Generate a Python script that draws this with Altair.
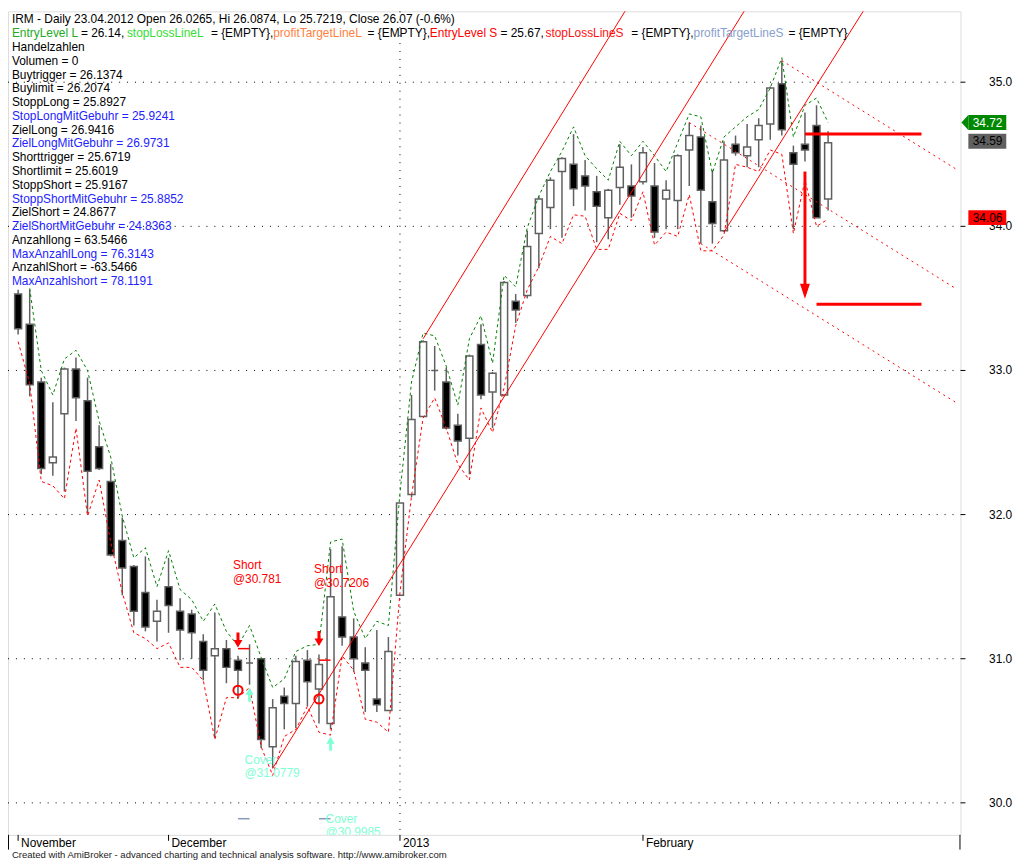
import altair as alt
import pandas as pd

# ---------------- data ----------------
bar_index = list(range(71))
open_p = [33.53, 33.32, 32.92, 32.36, 32.70, 33.01, 32.79, 32.47, 32.23, 31.82,
          31.64, 31.46, 31.26, 31.50, 31.33, 31.31, 31.12, 31.02, 31.07, 30.99,
          30.97, 31.00, 30.39, 30.74, 30.69, 30.99, 30.79, 30.55, 31.29, 31.15,
          30.97, 30.72, 30.64, 31.44, 32.14, 32.68, 33.00, 32.92, 32.62, 32.53,
          33.18, 32.85, 32.83, 33.48, 33.52, 33.95, 34.13, 34.38, 34.43, 34.35,
          34.24, 34.06, 34.27, 34.28, 34.31, 34.28, 34.19, 34.18, 34.53, 34.62,
          34.17, 33.97, 34.57, 34.49, 34.60, 34.71, 34.99, 34.51, 34.57, 34.70,
          34.19]
high_p = [33.56, 33.56, 32.95, 32.78, 33.02, 33.09, 32.95, 32.62, 32.35, 31.98,
          31.65, 31.71, 31.41, 31.70, 31.42, 31.34, 31.17, 31.32, 31.13, 31.02,
          31.10, 31.00, 30.72, 30.80, 31.02, 31.06, 31.03, 31.76, 31.78, 31.28,
          31.08, 31.20, 31.15, 32.08, 32.83, 33.21, 33.17, 33.02, 32.70, 33.11,
          33.32, 32.99, 33.62, 33.53, 33.97, 34.21, 34.34, 34.48, 34.64, 34.46,
          34.35, 34.26, 34.57, 34.43, 34.55, 34.44, 34.32, 34.50, 34.72, 34.70,
          34.39, 34.59, 34.63, 34.71, 34.75, 34.97, 35.15, 34.56, 34.79, 34.84,
          34.66]
low_p = [33.25, 32.82, 32.28, 32.27, 32.16, 32.65, 32.01, 32.31, 31.71, 31.44,
         31.23, 31.19, 31.12, 31.18, 30.99, 31.00, 30.85, 30.45, 30.83, 30.72,
         30.82, 30.38, 30.24, 30.51, 30.52, 30.67, 30.55, 30.51, 31.09, 30.91,
         30.63, 30.63, 30.64, 31.44, 32.12, 32.68, 32.86, 32.59, 32.41, 32.28,
         32.80, 32.60, 32.82, 33.33, 33.50, 33.71, 33.98, 33.92, 34.14, 34.11,
         33.89, 33.91, 34.15, 34.06, 34.29, 33.92, 33.98, 33.98, 34.28, 33.88,
         33.88, 33.96, 34.49, 34.41, 34.41, 34.60, 34.63, 33.98, 34.45, 34.06,
         34.11]
close_p = [33.29, 32.90, 32.32, 32.40, 33.01, 32.81, 32.30, 32.32, 31.72, 31.63,
           31.33, 31.22, 31.33, 31.37, 31.20, 31.18, 30.92, 31.07, 30.94, 30.92,
           30.97, 30.44, 30.66, 30.69, 30.98, 30.84, 30.96, 31.43, 31.15, 31.00,
           30.92, 30.68, 31.05, 32.08, 32.66, 33.20, 33.00, 32.60, 32.51, 33.10,
           32.83, 32.98, 33.61, 33.42, 33.86, 34.19, 34.32, 34.47, 34.26, 34.28,
           34.14, 34.25, 34.41, 34.21, 34.51, 33.96, 34.25, 34.49, 34.63, 34.25,
           34.02, 34.46, 34.51, 34.55, 34.70, 34.96, 34.67, 34.43, 34.53, 34.06,
           34.58]
upper_band = [None, 33.57, 33.00, 32.83, 33.08, 33.14, 33.00, 32.65, 32.40, 31.99,
              31.70, 31.77, 31.50, 31.75, 31.48, 31.41, 31.26, 31.38, 31.19, 31.09,
              31.23, 31.01, 30.80, 30.86, 31.05, 31.09, 31.10, 31.81, 31.83, 31.33,
              31.14, 31.26, 31.23, 32.15, 32.92, 33.26, 33.24, 33.03, 32.76, 33.22,
              33.38, 33.05, 33.66, 33.58, 33.99, 34.21, 34.38, 34.52, 34.69, 34.49,
              34.40, 34.32, 34.59, 34.49, 34.59, 34.49, 34.38, 34.58, 34.78, 34.76,
              34.37, 34.62, 34.69, 34.76, 34.81, 34.96, 35.17, 34.62, 34.84, 34.89,
              34.72]
lower_band = [33.20, 32.91, 32.23, 32.20, 32.11, 32.60, 31.99, 32.24, 31.81, 31.46,
              31.18, 31.14, 31.07, 31.11, 30.94, 30.94, 30.85, 30.44, 30.73, 30.73,
              30.80, 30.39, 30.19, 30.46, 30.51, 30.67, 30.49, 30.47, 31.02, 30.92,
              30.58, 30.56, 30.49, 31.46, 32.13, 32.67, 32.81, 32.60, 32.35, 32.24,
              32.74, 32.57, 32.88, 33.31, 33.56, 33.72, 33.93, 33.88, 34.08, 34.07,
              33.84, 33.84, 34.09, 34.04, 34.24, 33.87, 33.96, 33.93, 34.22, 33.83,
              33.83, 33.94, 34.43, 34.41, 34.38, 34.53, 34.50, 33.95, 34.32, 34.00,
              34.05]

month_labels = ["November", "December", "2013", "February"]
month_start_bar = [0, 13, 33, 54]
year_start_bar = [33]
price_ticks = [30, 31, 32, 33, 34, 35]

# trend lines (start bar, start price, end bar, end price)
up_from_bar = [22, 35, 61]
up_from_val = [30.24, 33.22, 33.96]
up_to_bar = [63.5, 53.2, 73.8]
up_to_val = [35.59, 35.59, 35.59]
down_from_bar = [66, 58, 59]
down_from_val = [35.15, 34.72, 33.88]
down_to_bar = [81.0, 81.0, 81.0]
down_to_val = [34.40, 33.57, 32.78]

# target lines and arrow
target_from_bar = [68, 69]
target_to_bar = [78.07, 78.07]
target_val = [34.64, 33.46]
arrow_bar = [68]
arrow_top = [34.38]
arrow_bottom = [33.60]
arrow_head = [33.55]

# trade signals
short_bar = [19, 26]
short_price = [30.781, 30.7206]
short_arrow_val = [31.13, 31.14]
short_line_val = [31.07, 30.99]
cover_bar = [20, 27]
cover_price = [31.0779, 30.9985]
cover_arrow_val = [30.75, 30.41]
gray_line_val = [29.89, 29.89]
short_label_val = [31.65, 31.62]
cover_label_val = [30.30, 29.89]

# right axis price labels
tag_val = [34.72, 34.59, 34.06]
tag_fill = ["#008800", "#606060", "#FF0000"]
tag_text_col = ["white", "black", "black"]

title_line = "IRM - Daily 23.04.2012 Open 26.0265, Hi 26.0874, Lo 25.7219, Close 26.07 (-0.6%)"
line2_parts = ["EntryLevel L", "= 26.14,", "stopLossLineL", "= {EMPTY},", "profitTargetLineL",
               "= {EMPTY},", "EntryLevel S", "= 25.67,", "stopLossLineS", "= {EMPTY},",
               "profitTargetLineS", "= {EMPTY}"]
line2_colors = ["#1EAA1E", "black", "#33DD33", "black", "#FF7F3F", "black", "#FF0000",
                "black", "#FF1010", "black", "#88A0CC", "black"]
info_lines = ["Handelzahlen", "Volumen = 0", "Buytrigger = 26.1374", "Buylimit = 26.2074",
              "StoppLong = 25.8927", "StopLongMitGebuhr = 25.9241", "ZielLong = 26.9416",
              "ZielLongMitGebuhr = 26.9731", "Shorttrigger = 25.6719", "Shortlimit = 25.6019",
              "StoppShort = 25.9167", "StoppShortMitGebuhr = 25.8852", "ZielShort = 24.8677",
              "ZielShortMitGebuhr = 24.8363", "Anzahllong = 63.5466", "MaxAnzahlLong = 76.3143",
              "AnzahlShort = -63.5466", "MaxAnzahlshort = 78.1191"]
BLUE = "#2222FF"
info_colors = ["black", "black", "black", "black", "black", BLUE, "black", BLUE, "black",
               "black", "black", BLUE, "black", BLUE, "black", BLUE, "black", BLUE]
footer = "Created with AmiBroker - advanced charting and technical analysis software. http://www.amibroker.com"

# ---------------- layout ----------------
W, H = 960, 830
RW, RH = 967.0, 837.0


def sx(v):
    return v * W / RW


def sy(v):
    return v * H / RH


FONT = "Liberation Sans"
xs = alt.Scale(domain=[-0.446, 81.01], nice=False, zero=False)
ys = alt.Scale(domain=[29.778, 35.4915], nice=False, zero=False)


def X(f):
    return alt.X(f, type="quantitative", scale=xs, axis=None)


def Y(f):
    return alt.Y(f, type="quantitative", scale=ys, axis=None)


candles = pd.DataFrame({"i": bar_index, "o": open_p, "h": high_p, "l": low_p, "c": close_p})
bands = pd.DataFrame({"i": bar_index, "up": upper_band, "dn": lower_band})
pticks = pd.DataFrame({"v": price_ticks, "t": [format(v, ".1f") for v in price_ticks]})
mticks = pd.DataFrame({"i": month_start_bar, "t": month_labels})

layers = []

# price grid, ticks and labels (right axis)
layers.append(alt.Chart(pticks).mark_rule(color="black", strokeDash=[1, 7], strokeWidth=1).encode(
    y=Y("v"), x=alt.value(0), x2=alt.value(W)))
layers.append(alt.Chart(pticks).mark_rule(color="black", strokeWidth=1).encode(
    y=Y("v"), x=alt.value(W), x2=alt.value(W + 5)))
layers.append(alt.Chart(pticks).mark_text(align="left", baseline="middle", font=FONT, fontSize=12,
                                          color="black").encode(
    y=Y("v"), x=alt.value(sx(996)), text="t:N"))

# date ticks and labels
layers.append(alt.Chart(mticks).mark_rule(color="black", strokeWidth=1).encode(
    x=X("i"), y=alt.value(H), y2=alt.value(H + 6)))
layers.append(alt.Chart(mticks).mark_text(align="left", baseline="top", dx=3, font=FONT, fontSize=12,
                                          color="black").encode(
    x=X("i"), y=alt.value(H + 3), text="t:N"))

# year separator
layers.append(alt.Chart(pd.DataFrame({"i": year_start_bar})).mark_rule(
    color="black", strokeDash=[1, 7], strokeWidth=1).encode(x=X("i"), y=alt.value(0), y2=alt.value(H)))

# wicks
layers.append(alt.Chart(candles).mark_rule(color="#606060", strokeWidth=1.5).encode(
    x=X("i"), y=Y("l"), y2="h:Q"))

# bodies
layers.append(alt.Chart(candles).mark_bar(width=7, stroke="#606060", strokeWidth=1.5).encode(
    x=X("i"), y=Y("o"), y2="c:Q",
    color=alt.condition("datum.c < datum.o", alt.value("black"), alt.value("white"))))

# bands
layers.append(alt.Chart(bands).mark_line(color="#008000", strokeDash=[3, 3], strokeWidth=1).encode(
    x=X("i"), y=Y("up")))
layers.append(alt.Chart(bands).mark_line(color="#FF0000", strokeDash=[3, 3], strokeWidth=1).encode(
    x=X("i"), y=Y("dn")))

# trend lines
up_rows = []
for k in range(len(up_from_bar)):
    up_rows.append({"id": k, "i": up_from_bar[k], "v": up_from_val[k]})
    up_rows.append({"id": k, "i": up_to_bar[k], "v": up_to_val[k]})
layers.append(alt.Chart(pd.DataFrame(up_rows)).mark_line(color="#FF0000", strokeWidth=1, clip=True).encode(
    x=X("i"), y=Y("v"), detail="id:N"))
down_rows = []
for k in range(len(down_from_bar)):
    down_rows.append({"id": k, "i": down_from_bar[k], "v": down_from_val[k]})
    down_rows.append({"id": k, "i": down_to_bar[k], "v": down_to_val[k]})
layers.append(alt.Chart(pd.DataFrame(down_rows)).mark_line(color="#FF0000", strokeWidth=1,
                                                            strokeDash=[2, 4], clip=True).encode(
    x=X("i"), y=Y("v"), detail="id:N"))

# target lines and arrow
layers.append(alt.Chart(pd.DataFrame({"a": target_from_bar, "b": target_to_bar, "v": target_val})).mark_rule(
    color="#FF0000", strokeWidth=3).encode(x=X("a"), x2="b:Q", y=Y("v")))
layers.append(alt.Chart(pd.DataFrame({"i": arrow_bar, "a": arrow_top, "b": arrow_bottom})).mark_rule(
    color="#FF0000", strokeWidth=3).encode(x=X("i"), y=Y("a"), y2="b:Q"))
layers.append(alt.Chart(pd.DataFrame({"i": arrow_bar, "v": arrow_head})).mark_point(
    shape="M-0.667,-1L0.667,-1L0,1Z", size=225, filled=True, color="#FF0000", opacity=1).encode(
    x=X("i"), y=Y("v")))

# trade signals
sig = pd.DataFrame({"si": short_bar, "ci": cover_bar, "sp": short_price, "sa": short_arrow_val,
                    "sl": short_line_val, "ca": cover_arrow_val, "gl": gray_line_val})
layers.append(alt.Chart(sig).mark_rule(color="#FF0000", strokeWidth=1.5).encode(
    x=X("si"), x2="ci:Q", y=Y("sl")))
layers.append(alt.Chart(sig).mark_rule(color="#8899BB", strokeWidth=1.5).encode(
    x=X("si"), x2="ci:Q", y=Y("gl")))
layers.append(alt.Chart(sig).mark_point(
    shape="M-0.2,-1L0.2,-1L0.2,0L0.6,0L0,1L-0.6,0L-0.2,0Z", size=225, filled=True,
    color="#FF0000", opacity=1).encode(x=X("si"), y=Y("sa")))
layers.append(alt.Chart(sig).mark_point(
    shape="M-0.2,1L0.2,1L0.2,0L0.6,0L0,-1L-0.6,0L-0.2,0Z", size=196, filled=True,
    color="#7FFFD4", opacity=1).encode(x=X("ci"), y=Y("ca")))
layers.append(alt.Chart(sig).mark_point(shape="circle", size=85, filled=False, strokeWidth=2,
                                        color="#FF0000", opacity=1).encode(x=X("si"), y=Y("sp")))

short_txt = pd.DataFrame({
    "i": short_bar + short_bar,
    "v": short_label_val + [v - 0.095 for v in short_label_val],
    "t": ["Short", "Short"] + ["@" + format(p, "g") for p in short_price]})
layers.append(alt.Chart(short_txt).mark_text(align="left", baseline="middle", dx=-5, font=FONT,
                                              fontSize=12, color="#FF0000").encode(
    x=X("i"), y=Y("v"), text="t:N"))
cover_txt = pd.DataFrame({
    "i": cover_bar + cover_bar,
    "v": cover_label_val + [v - 0.092 for v in cover_label_val],
    "t": ["Cover", "Cover"] + ["@" + format(p, "g") for p in cover_price]})
layers.append(alt.Chart(cover_txt).mark_text(align="left", baseline="middle", dx=-5, font=FONT,
                                              fontSize=12, color="#7FFFD4", clip=True).encode(
    x=X("i"), y=Y("v"), text="t:N"))

# right-side price tags
tags = pd.DataFrame({"v": tag_val, "t": [format(v, ".2f") for v in tag_val],
                     "f": tag_fill, "tc": tag_text_col})
layers.append(alt.Chart(tags.iloc[:1]).mark_point(
    shape="M-1,0L-0.07,-1L-0.07,1Z", size=225, filled=True, opacity=1, color=tag_fill[0]).encode(
    x=alt.value(sx(975.5)), y=Y("v")))
layers.append(alt.Chart(tags).mark_rect(yOffset=-7.5, y2Offset=7.5).encode(
    x=alt.value(sx(975)), x2=alt.value(sx(1013.5)), y=Y("v"), y2="v:Q",
    color=alt.Color("f:N", scale=None)))
layers.append(alt.Chart(tags).mark_text(align="center", baseline="middle", font=FONT, fontSize=12).encode(
    x=alt.value(sx(994.5)), y=Y("v"), text="t:N", color=alt.Color("tc:N", scale=None)))

# frame extensions into the date band
for xv in [0.5, W - 0.5]:
    layers.append(alt.Chart(pd.DataFrame({"k": [0]})).mark_rule(color="black", strokeWidth=1).encode(
        x=alt.value(xv), y=alt.value(H), y2=alt.value(sy(852))))


def text_layer(s, xpx, ypx, col, font=FONT, size=12):
    return alt.Chart(pd.DataFrame({"t": [s]})).mark_text(
        align="left", baseline="middle", font=font, fontSize=size, color=col).encode(
        x=alt.value(xpx), y=alt.value(ypx), text="t:N")


layers.append(text_layer(title_line, sx(4), sy(8.3), "black"))
line2_x = [4, 74, 120.7, 206, 269.3, 365, 428.3, 500, 545.7, 632.7, 696, 792.3]
for s, c, xx in zip(line2_parts, line2_colors, line2_x):
    layers.append(text_layer(s, sx(xx), sy(22.3), c))
for k, (s, c) in enumerate(zip(info_lines, info_colors)):
    layers.append(text_layer(s, sx(4), sy(36.3 + 14 * k), c))
layers.append(text_layer(footer, sx(4), sy(858), "#222222",
                         font="Liberation Sans Narrow, Arial Narrow, sans-serif", size=9.6))

chart = alt.layer(*layers).properties(
    width=W, height=H,
    padding={"left": 0, "top": 0, "right": 60, "bottom": 27},
    autosize=alt.AutoSizeParams(type="none"),
    background="white",
).configure_view(stroke="black", strokeWidth=1).configure(font=FONT)

chart.save("out.html", embed_options={"renderer": "svg", "actions": False})
